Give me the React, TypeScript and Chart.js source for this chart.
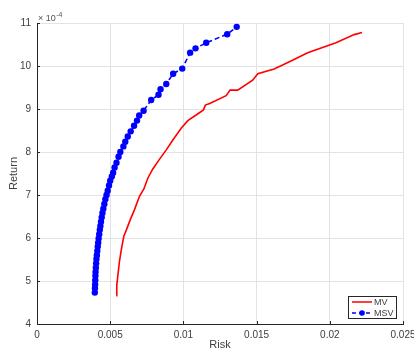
import React, { useEffect, useRef } from "react";
import { Chart, registerables } from "chart.js";

Chart.register(...registerables);

// MV efficient frontier (risk, return ×1e-4)
const mvRisk = [0.00542, 0.00545, 0.00553, 0.00563, 0.00576, 0.00593, 0.00612, 0.0064, 0.00666, 0.007, 0.0073, 0.00757, 0.0079, 0.0083, 0.00883, 0.00928, 0.00985, 0.0103, 0.01087, 0.01137, 0.0115, 0.0118, 0.01292, 0.01319, 0.01371, 0.01473, 0.01508, 0.0162, 0.01724, 0.01849, 0.02042, 0.02167, 0.0222];
const mvReturn = [4.66, 4.9, 5.15, 5.45, 5.73, 6.04, 6.2, 6.45, 6.66, 6.97, 7.14, 7.39, 7.6, 7.8, 8.05, 8.28, 8.55, 8.73, 8.86, 8.98, 9.09, 9.13, 9.31, 9.44, 9.44, 9.67, 9.82, 9.93, 10.1, 10.31, 10.54, 10.73, 10.78];

// MSV efficient frontier
const msvRisk = [0.00395, 0.00396, 0.00397, 0.00398, 0.00399, 0.004, 0.00402, 0.00404, 0.00406, 0.00409, 0.00412, 0.00415, 0.00418, 0.00421, 0.00425, 0.00429, 0.00433, 0.00437, 0.00442, 0.00447, 0.00453, 0.0046, 0.00467, 0.00475, 0.00483, 0.00492, 0.005, 0.00511, 0.0052, 0.0053, 0.00543, 0.00557, 0.00569, 0.0059, 0.00603, 0.0062, 0.0064, 0.00663, 0.00683, 0.00698, 0.00728, 0.0078, 0.0083, 0.00844, 0.00883, 0.0093, 0.00992, 0.01046, 0.01083, 0.01156, 0.01299, 0.01364];
const msvReturn = [4.73, 4.83, 4.92, 5.02, 5.12, 5.21, 5.31, 5.41, 5.51, 5.6, 5.7, 5.8, 5.89, 5.99, 6.09, 6.19, 6.28, 6.38, 6.48, 6.58, 6.68, 6.79, 6.9, 7.0, 7.1, 7.22, 7.33, 7.43, 7.52, 7.64, 7.75, 7.89, 8.0, 8.13, 8.24, 8.36, 8.48, 8.61, 8.73, 8.85, 8.96, 9.21, 9.33, 9.46, 9.58, 9.82, 9.94, 10.31, 10.41, 10.54, 10.74, 10.91];

const xTickLabels = ["0", "0.005", "0.01", "0.015", "0.02", "0.025"];
const yTickLabels = ["4", "5", "6", "7", "8", "9", "10", "11"];
const seriesNames = ["MV", "MSV"];

const FONT = "'Liberation Sans', Arial, sans-serif";
const AXIS = "#262626";
const TEXT = "#404040";

const extrasPlugin = {
  id: "extras",
  afterDraw(chart: any) {
    const { ctx, chartArea, scales } = chart;
    const xs = scales.x;
    const ys = scales.y;
    ctx.save();
    // inward ticks
    ctx.strokeStyle = AXIS;
    ctx.lineWidth = 1;
    ctx.beginPath();
    xs.ticks.forEach((t: any) => {
      const px = Math.round(xs.getPixelForValue(t.value)) + 0.5;
      ctx.moveTo(px, chartArea.bottom);
      ctx.lineTo(px, chartArea.bottom - 3);
    });
    ys.ticks.forEach((t: any) => {
      const py = Math.round(ys.getPixelForValue(t.value)) + 0.5;
      ctx.moveTo(chartArea.left, py);
      ctx.lineTo(chartArea.left + 3, py);
    });
    ctx.stroke();

    // exponent label
    ctx.fillStyle = "#555555";
    ctx.textBaseline = "alphabetic";
    ctx.textAlign = "left";
    ctx.font = `9px ${FONT}`;
    ctx.fillText("× 10", chartArea.left + 1, chartArea.top - 2);
    const w = ctx.measureText("× 10").width;
    ctx.font = `7px ${FONT}`;
    ctx.fillText("-4", chartArea.left + 1 + w + 0.5, chartArea.top - 6);

    // legend
    const bx = 348.5, by = 296.5, bw = 48, bh = 22;
    ctx.fillStyle = "#ffffff";
    ctx.fillRect(bx, by, bw, bh);
    ctx.strokeStyle = AXIS;
    ctx.lineWidth = 1;
    ctx.strokeRect(bx, by, bw, bh);
    ctx.font = `9px ${FONT}`;
    ctx.textBaseline = "middle";
    ctx.fillStyle = TEXT;
    // MV
    ctx.strokeStyle = "#ff0000";
    ctx.lineWidth = 1.5;
    ctx.beginPath();
    ctx.moveTo(352, 302);
    ctx.lineTo(372, 302);
    ctx.stroke();
    ctx.fillText(seriesNames[0], 374, 302.5);
    // MSV
    ctx.strokeStyle = "#0000ff";
    ctx.setLineDash([4, 3]);
    ctx.beginPath();
    ctx.moveTo(352, 313);
    ctx.lineTo(372, 313);
    ctx.stroke();
    ctx.setLineDash([]);
    ctx.fillStyle = "#0000ff";
    ctx.beginPath();
    ctx.arc(362, 313, 2.8, 0, Math.PI * 2);
    ctx.fill();
    ctx.fillStyle = TEXT;
    ctx.fillText(seriesNames[1], 374, 313.5);
    ctx.restore();
  },
};

export default function App() {
  const ref = useRef<HTMLCanvasElement | null>(null);
  useEffect(() => {
    if (!ref.current) return;
    const mv = mvRisk.map((x, i) => ({ x, y: mvReturn[i] }));
    const msv = msvRisk.map((x, i) => ({ x, y: msvReturn[i] }));
    const chart = new Chart(ref.current, {
      type: "scatter",
      data: {
        datasets: [
          {
            label: seriesNames[0],
            data: mv,
            showLine: true,
            borderColor: "#ff0000",
            borderWidth: 1.6,
            pointRadius: 0,
            tension: 0,
          },
          {
            label: seriesNames[1],
            data: msv,
            showLine: true,
            borderColor: "#0000ff",
            borderWidth: 1.6,
            borderDash: [5, 3],
            pointRadius: 3.2,
            pointBackgroundColor: "#0000ff",
            pointBorderWidth: 0,
            tension: 0,
          },
        ],
      },
      options: {
        animation: false,
        responsive: false,
        devicePixelRatio: 1,
        layout: { padding: { top: 23, right: 11, left: 0, bottom: 0 } },
        plugins: { legend: { display: false }, tooltip: { enabled: false } },
        scales: {
          x: {
            type: "linear",
            min: 0,
            max: 0.025,
            afterFit: (s: any) => {
              s.height = 28;
              s.paddingLeft = 0;
              s.paddingRight = 0;
            },
            afterBuildTicks: (s: any) => {
              s.ticks = xTickLabels.map((l) => ({ value: parseFloat(l) }));
            },
            ticks: {
              callback: (_v: any, i: number) => xTickLabels[i],
              font: { family: FONT, size: 10 },
              color: TEXT,
              padding: 5,
              maxRotation: 0,
            },
            grid: { color: "#e3e3e3", drawTicks: false },
            border: { display: true, color: AXIS, width: 1 },
            title: {
              display: true,
              text: "Risk",
              font: { family: FONT, size: 11 },
              color: TEXT,
              padding: { top: 0, bottom: 0 },
            },
          },
          y: {
            type: "linear",
            min: 4,
            max: 11,
            afterFit: (s: any) => {
              s.width = 37;
              s.paddingTop = 0;
              s.paddingBottom = 0;
            },
            afterBuildTicks: (s: any) => {
              s.ticks = yTickLabels.map((l) => ({ value: parseFloat(l) }));
            },
            ticks: {
              callback: (_v: any, i: number) => yTickLabels[i],
              font: { family: FONT, size: 10 },
              color: TEXT,
              padding: 6,
            },
            grid: { color: "#e3e3e3", drawTicks: false },
            border: { display: true, color: AXIS, width: 1 },
            title: {
              display: true,
              text: "Return",
              font: { family: FONT, size: 11 },
              color: TEXT,
              padding: { top: 7, bottom: 0 },
            },
          },
        },
      },
      plugins: [extrasPlugin],
    });
    return () => chart.destroy();
  }, []);
  return (
    <div style={{ position: "fixed", left: 0, top: 0, width: 414, height: 352, background: "#ffffff" }}>
      <canvas ref={ref} width={414} height={352} style={{ width: 414, height: 352, display: "block" }} />
    </div>
  );
}
